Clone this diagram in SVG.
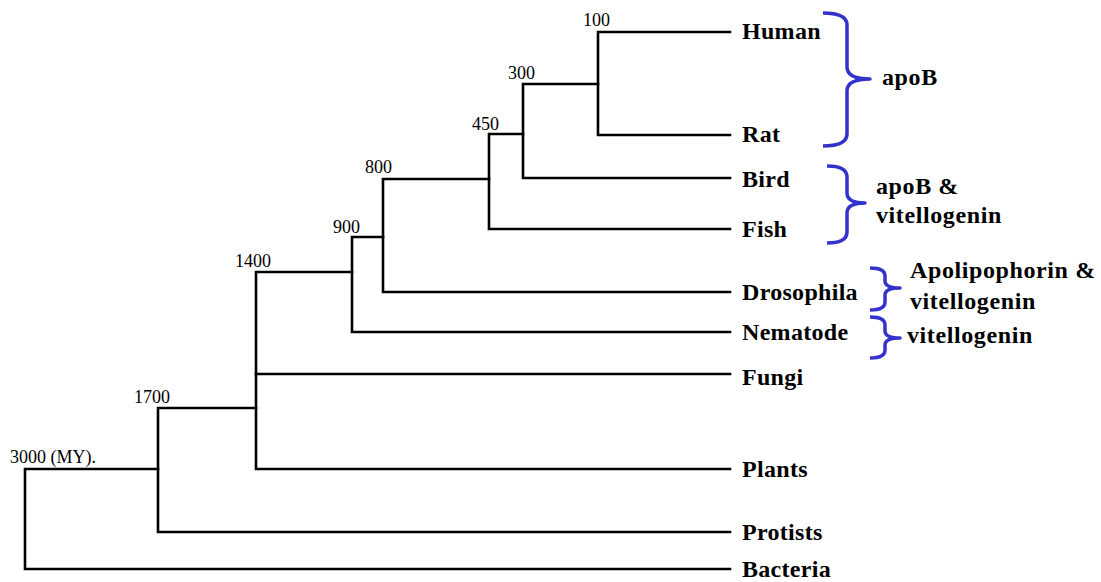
<svg xmlns="http://www.w3.org/2000/svg" width="1101" height="582" viewBox="0 0 1101 582">
<style>
.tree{fill:none;stroke:#000;stroke-width:2.6;stroke-linecap:square}
.brace{fill:none;stroke:#3333cc;stroke-width:3.5;stroke-linecap:butt;stroke-linejoin:round}
.num{font-family:"Liberation Serif",serif;font-size:18px;fill:#000}
.sp{font-family:"Liberation Serif",serif;font-size:24px;font-weight:bold;fill:#000;letter-spacing:0.3px}
.grp{font-family:"Liberation Serif",serif;font-size:24px;font-weight:bold;fill:#000;letter-spacing:0.6px}
</style>
<rect width="1101" height="582" fill="#fff"/>
<g id="connectors">
<path class="tree" d="M730,569 H25 V469 H158"/>
<path class="tree" d="M730,532 H158 V408 H256"/>
<path class="tree" d="M730,469 H256 V272 H352"/>
<path class="tree" d="M256,374 H730"/>
<path class="tree" d="M730,332 H352 V237 H383"/>
<path class="tree" d="M730,292 H383 V179 H489"/>
<path class="tree" d="M730,229 H489 V134 H523"/>
<path class="tree" d="M730,178 H523 V84 H598"/>
<path class="tree" d="M730,135 H598 V32 H730"/>
</g>
<g id="brackets">
<path class="brace" d="M823,13 Q847,13 847,25 L847,67 Q847,79 870,79 Q847,79 847,91 L847,134 Q847,146 823,146"/>
<path class="brace" d="M827,166 Q847,166 847,177 L847,193 Q847,203 865,203 Q847,203 847,213 L847,232 Q847,243 827,243"/>
<path class="brace" d="M870,268 Q885,268 885,276 L885,281 Q885,288 900,288 Q885,288 885,295 L885,302 Q885,310 870,310"/>
<path class="brace" d="M870,317 Q885,317 885,325 L885,331 Q885,338 900,338 Q885,338 885,345 L885,350 Q885,358 870,358"/>
</g>
<g id="node-100"><text class="num" x="583" y="26">100</text></g>
<g id="node-300"><text class="num" x="508" y="79">300</text></g>
<g id="node-450"><text class="num" x="472" y="130">450</text></g>
<g id="node-800"><text class="num" x="365" y="173">800</text></g>
<g id="node-900"><text class="num" x="333" y="233">900</text></g>
<g id="node-1400"><text class="num" x="235" y="267">1400</text></g>
<g id="node-1700"><text class="num" x="134" y="403">1700</text></g>
<g id="node-3000"><text class="num" x="10" y="463">3000 (MY).</text></g>
<g id="human"><text class="sp" x="742" y="39">Human</text></g>
<g id="rat"><text class="sp" x="742" y="142">Rat</text></g>
<g id="bird"><text class="sp" x="742" y="187">Bird</text></g>
<g id="fish"><text class="sp" x="742" y="237">Fish</text></g>
<g id="drosophila"><text class="sp" x="742" y="300">Drosophila</text></g>
<g id="nematode"><text class="sp" x="742" y="340">Nematode</text></g>
<g id="fungi"><text class="sp" x="742" y="385">Fungi</text></g>
<g id="plants"><text class="sp" x="742" y="477">Plants</text></g>
<g id="protists"><text class="sp" x="742" y="540">Protists</text></g>
<g id="bacteria"><text class="sp" x="742" y="577">Bacteria</text></g>
<g id="label-apoB"><text class="grp" x="882" y="85">apoB</text></g>
<g id="label-apoB-vit"><text class="grp" x="876" y="194">apoB &amp;</text><text class="grp" x="876" y="223">vitellogenin</text></g>
<g id="label-apolipophorin"><text class="grp" x="910" y="278">Apolipophorin &amp;</text><text class="grp" x="910" y="309">vitellogenin</text></g>
<g id="label-vit"><text class="grp" x="907" y="343">vitellogenin</text></g>
</svg>
